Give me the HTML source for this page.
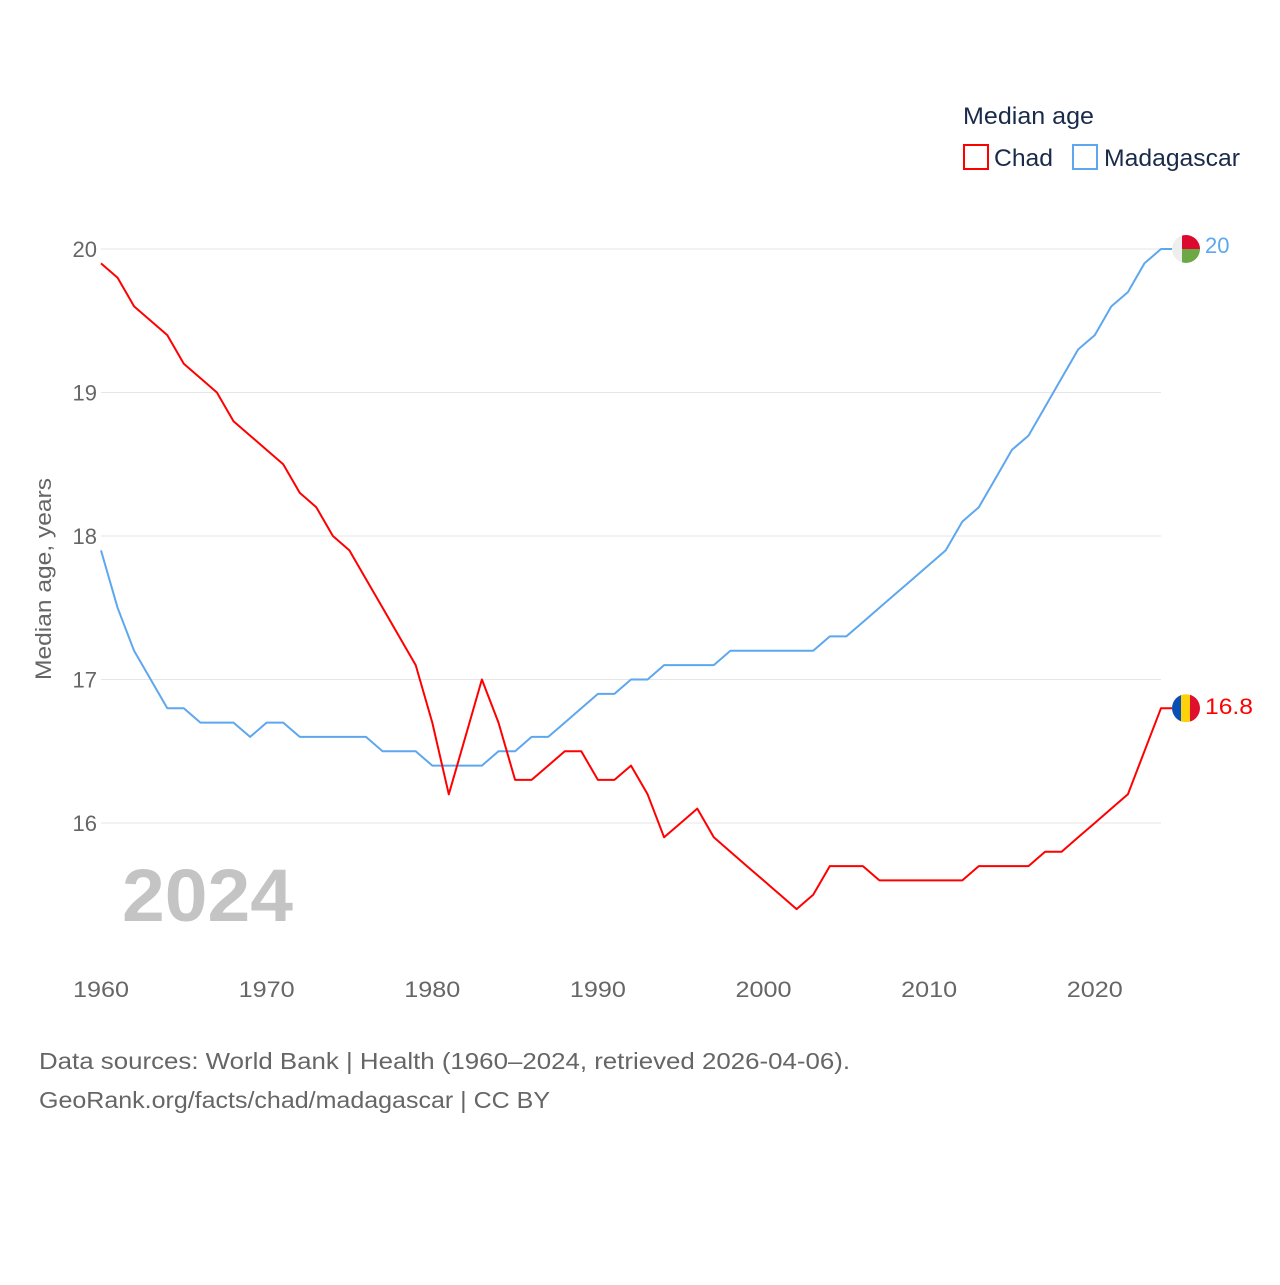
<!DOCTYPE html>
<html><head><meta charset="utf-8"><style>
body{margin:0;background:#fff;font-family:"Liberation Sans",sans-serif;}
#wrap{position:relative;width:1280px;height:1280px;}
svg text{font-family:"Liberation Sans",sans-serif;}
</style></head><body>
<div id="wrap">
<svg id="chart" width="1280" height="1280"></svg>
</div>
<script>
const years=[];for(let y=1960;y<=2024;y++)years.push(y);
const chad=[19.9,19.8,19.6,19.5,19.4,19.2,19.1,19.0,18.8,18.7,18.6,18.5,18.3,18.2,18.0,17.9,17.7,17.5,17.3,17.1,16.7,16.2,16.6,17.0,16.7,16.3,16.3,16.4,16.5,16.5,16.3,16.3,16.4,16.2,15.9,16.0,16.1,15.9,15.8,15.7,15.6,15.5,15.4,15.5,15.7,15.7,15.7,15.6,15.6,15.6,15.6,15.6,15.6,15.7,15.7,15.7,15.7,15.8,15.8,15.9,16.0,16.1,16.2,16.5,16.8];
const madagascar=[17.9,17.5,17.2,17.0,16.8,16.8,16.7,16.7,16.7,16.6,16.7,16.7,16.6,16.6,16.6,16.6,16.6,16.5,16.5,16.5,16.4,16.4,16.4,16.4,16.5,16.5,16.6,16.6,16.7,16.8,16.9,16.9,17.0,17.0,17.1,17.1,17.1,17.1,17.2,17.2,17.2,17.2,17.2,17.2,17.3,17.3,17.4,17.5,17.6,17.7,17.8,17.9,18.1,18.2,18.4,18.6,18.7,18.9,19.1,19.3,19.4,19.6,19.7,19.9,20.0];
const yTicks=[16,17,18,19,20];
const xTicks=[1960,1970,1980,1990,2000,2010,2020];
const NS='http://www.w3.org/2000/svg';
const svg=document.getElementById('chart');
const x=v=>101+(v-1960)*(1161-101)/64;
const y=v=>823-(v-16)*(823-249)/4;
function el(t,a,p){const e=document.createElementNS(NS,t);for(const k in a)e.setAttribute(k,a[k]);(p||svg).appendChild(e);return e;}
yTicks.forEach(t=>{
 const g=el('line',{x1:101,x2:1161,y1:y(t),y2:y(t),stroke:'#e6e6e6','stroke-width':1});
 
 
 const l=el('text',{x:97,y:y(t)+8,'text-anchor':'end','font-size':22,fill:'#666'});l.textContent=t;
 
 
});
xTicks.forEach(t=>{
 const l=el('text',{x:x(t),y:997,'text-anchor':'middle','font-size':22,fill:'#666',textLength:56,lengthAdjust:'spacingAndGlyphs'});l.textContent=t;
 
 
});
const yt=el('text',{x:0,y:0,transform:'translate(51,579) rotate(-90)','text-anchor':'middle','font-size':22,fill:'#666',textLength:202,lengthAdjust:'spacingAndGlyphs'});yt.textContent='Median age, years';


const yr=el('text',{x:122,y:921,'font-size':74,'font-weight':'bold',fill:'#c4c4c4',textLength:171,lengthAdjust:'spacingAndGlyphs'});yr.textContent='2024';


function series(vals,color,name){
 const d=vals.map((v,i)=>(i?'L':'M')+x(years[i]).toFixed(1)+','+y(v).toFixed(1)).join('')+'L1172,'+y(vals[vals.length-1]).toFixed(1);
 const p=el('path',{d:d,fill:'none',stroke:color,'stroke-width':2,'stroke-linejoin':'round'});
 
 
}
series(madagascar,'#5ea7ef','madagascar');
series(chad,'#ff0000','chad');
const my=y(madagascar[madagascar.length-1]), cy=y(chad[chad.length-1]);
el('defs',{},svg).innerHTML='<clipPath id="cm"><circle cx="1186" cy="'+my+'" r="14"/></clipPath><clipPath id="cc"><circle cx="1186" cy="'+cy+'" r="14"/></clipPath>';
const fm=el('g',{});


el('rect',{x:1172,y:my-14,width:10,height:28,fill:'#eee','clip-path':'url(#cm)'},fm);
el('rect',{x:1182,y:my-14,width:18,height:14,fill:'#dc0a30','clip-path':'url(#cm)'},fm);
el('rect',{x:1182,y:my,width:18,height:14,fill:'#6ca843','clip-path':'url(#cm)'},fm);
const fc=el('g',{});


el('rect',{x:1172,y:cy-14,width:10,height:28,fill:'#0a4fb4','clip-path':'url(#cc)'},fc);
el('rect',{x:1181,y:cy-14,width:10,height:28,fill:'#fdd20a','clip-path':'url(#cc)'},fc);
el('rect',{x:1190,y:cy-14,width:10,height:28,fill:'#e0102c','clip-path':'url(#cc)'},fc);
const lm=el('text',{x:1205,y:my+4,'font-size':22,fill:'#5ea7ef'});lm.textContent='20';


const lc=el('text',{x:1205,y:cy+6,'font-size':22,fill:'#ff0000',textLength:48,lengthAdjust:'spacingAndGlyphs'});lc.textContent='16.8';


const lt=el('text',{x:963,y:124,'font-size':24,fill:'#1a2b4a',textLength:131,lengthAdjust:'spacingAndGlyphs'});lt.textContent='Median age';


const s1=el('rect',{x:964,y:145,width:24,height:24,fill:'none',stroke:'#ff0000','stroke-width':2});


const t1=el('text',{x:994,y:166,'font-size':24,fill:'#1a2b4a',textLength:59,lengthAdjust:'spacingAndGlyphs'});t1.textContent='Chad';


const s2=el('rect',{x:1073,y:145,width:24,height:24,fill:'none',stroke:'#5ea7ef','stroke-width':2});


const t2=el('text',{x:1104,y:166,'font-size':24,fill:'#1a2b4a',textLength:136,lengthAdjust:'spacingAndGlyphs'});t2.textContent='Madagascar';


const f1=el('text',{x:39,y:1069,'font-size':23,fill:'#666',textLength:811,lengthAdjust:'spacingAndGlyphs'});f1.textContent='Data sources: World Bank | Health (1960–2024, retrieved 2026-04-06).';


const f2=el('text',{x:39,y:1108,'font-size':23,fill:'#666',textLength:511,lengthAdjust:'spacingAndGlyphs'});f2.textContent='GeoRank.org/facts/chad/madagascar | CC BY';


</script>
</body></html>
